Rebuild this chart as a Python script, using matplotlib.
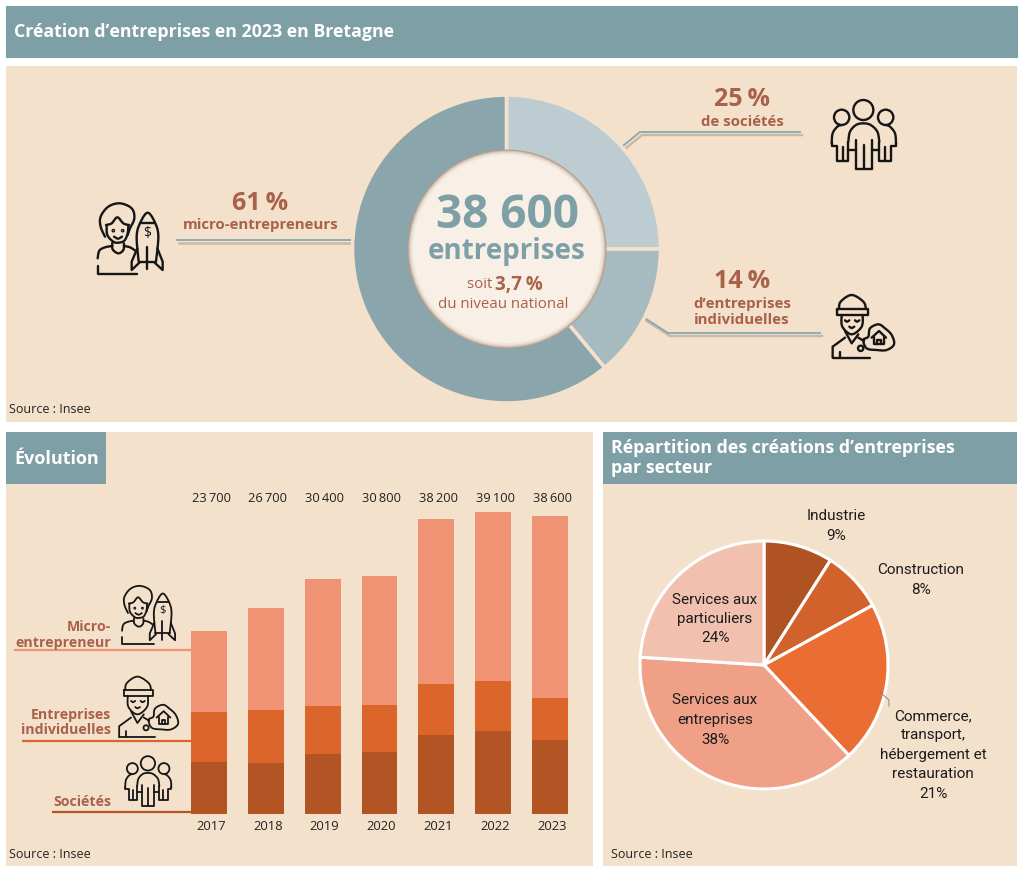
import numpy as np
import matplotlib as mpl
mpl.use('Agg')
import matplotlib.pyplot as plt
from matplotlib.patches import Rectangle, Circle
from matplotlib.transforms import ScaledTranslation

W, H = 1024, 874

donut_labels = ["de sociétés", "d’entreprises individuelles", "micro-entrepreneurs"]
donut_values = [25, 14, 61]
donut_colors = ["#BDCCD1", "#A5BBC0", "#8BA5AC"]

years = ["2017", "2018", "2019", "2020", "2021", "2022", "2023"]
societes = [6700, 6600, 7800, 8000, 10200, 10800, 9600]
individuelles = [6500, 6900, 6200, 6100, 6700, 6500, 5500]
micro = [10500, 13200, 16400, 16700, 21300, 21800, 23500]
totals = ["23 700", "26 700", "30 400", "30 800", "38 200", "39 100", "38 600"]

sectors = ["Industrie", "Construction", "Commerce", "Services aux entreprises", "Services aux particuliers"]
sector_values = [9, 8, 21, 38, 24]
sector_colors = ["#B05323", "#D2622B", "#EA6E34", "#F0A086", "#F2C0AF"]

TEAL = "#7E9FA5"
BEIGE = "#F3E1CB"
BROWN = "#A9614A"
C_SOC, C_EI, C_MICRO = "#B35424", "#DC652C", "#F09274"

plt.rcParams['font.family'] = ['Open Sans', 'DejaVu Sans']
fig = plt.figure(figsize=(W / 100, H / 100), dpi=100)


def px_axes(left, top, right, bottom, z):
    a = fig.add_axes([left / W, 1 - bottom / H, (right - left) / W, (bottom - top) / H], zorder=z)
    a.patch.set_alpha(0)
    return a


def full_axes(z):
    a = px_axes(0, 0, W, H, z)
    a.set_xlim(0, W)
    a.set_ylim(H, 0)
    a.axis("off")
    return a


bg = full_axes(0)
fg = full_axes(5)

for x0, y0, x1, y1, c in [(6, 6, 1018, 58, TEAL), (6, 66, 1017, 422, BEIGE), (6, 432, 593, 866, BEIGE),
                          (603, 432, 1017, 866, BEIGE), (6, 432, 106, 484, TEAL), (603, 432, 1017, 484, TEAL)]:
    bg.add_patch(Rectangle((x0, y0), x1 - x0, y1 - y0, fc=c, ec="none"))

# leader lines, shadow first
for xs, ys in [([177, 357], [240, 240]), ([618, 640, 800], [150, 132, 132]), ([640, 668, 820], [315, 333, 333])]:
    bg.plot(np.array(xs) + 2, np.array(ys) + 3, color="#C9BAA8", lw=1.8)
    bg.plot(xs, ys, color="#86A8B3", lw=1.3)

# donut
r = 154
cx, cy = 506.5, 249
ax = px_axes(cx - r, cy - r, cx + r, cy + r, 1)
ax.pie(donut_values, colors=donut_colors, startangle=90, counterclock=False, radius=1,
       wedgeprops=dict(width=0.5, edgecolor=BEIGE, linewidth=2.6))
ax.set_xlim(-1, 1)
ax.set_ylim(-1, 1)
for rad, col in [(99.5, "#B39C8C"), (98.5, "#C9B9AB"), (97.5, "#E0D4C8"), (96, "#F0E7DB"), (94, "#F8F0E6")]:
    fg.add_patch(Circle((cx + 0.5, cy), rad, fc=col, ec="none"))

# stacked bars
bx = px_axes(180.5, 490, 578.5, 814, 2)
x = np.arange(len(years))
bx.bar(x, societes, width=0.63, color=C_SOC)
bx.bar(x, individuelles, width=0.63, bottom=societes, color=C_EI)
bx.bar(x, micro, width=0.63, bottom=np.add(societes, individuelles), color=C_MICRO)
bx.set_xlim(-0.5, 6.5)
bx.set_ylim(0, 42000)
bx.set_xticks(x, years, fontsize=9.4, color="#222222")
bx.tick_params(axis="x", length=0, pad=4)
shift = ScaledTranslation(2 / 100, 0, fig.dpi_scale_trans)
for lab in bx.get_xticklabels():
    lab.set_transform(lab.get_transform() + shift)
bx.set_yticks([])
for s in bx.spines.values():
    s.set_visible(False)
for i, t in enumerate(totals):
    fg.text(211 + i * 56.9, 499, t.replace(" ", "\u2009"), ha="center", va="center", fontsize=9.3, color="#222222")

# sector pie
pr = 124
px, py = 764, 665
pa = px_axes(px - pr, py - pr, px + pr, py + pr, 2)
pa.pie(sector_values, colors=sector_colors, startangle=90, counterclock=False, radius=1,
       wedgeprops=dict(edgecolor="white", linewidth=2.2))
pa.set_xlim(-1, 1)
pa.set_ylim(-1, 1)
fg.plot([880, 889, 889], [692, 700, 706], color="#8A8078", lw=0.7)


def spline(pts, closed=False, n=12):
    # catmull-rom, only to keep the icons round
    p = np.array(pts, dtype=float)
    if closed:
        p = np.vstack([p[-1], p, p[0], p[1]])
    else:
        p = np.vstack([p[0], p, p[-1]])
    out = []
    for i in range(1, len(p) - 2):
        for t in np.linspace(0, 1, n, endpoint=False):
            out.append(0.5 * (2 * p[i] + (p[i + 1] - p[i - 1]) * t
                              + (2 * p[i - 1] - 5 * p[i] + 4 * p[i + 1] - p[i + 2]) * t ** 2
                              + (3 * p[i] - p[i - 1] - 3 * p[i + 1] + p[i + 2]) * t ** 3))
    out.append(p[-2])
    return np.array(out)


def draw(a, x0, y0, s, lw, curves=(), lines=(), circles=()):
    for pts, closed in curves:
        q = spline(pts, closed)
        a.plot(x0 + q[:, 0] * s, y0 + q[:, 1] * s, color="#161616", lw=lw, solid_capstyle="round")
    for pts in lines:
        q = np.array(pts, dtype=float)
        a.plot(x0 + q[:, 0] * s, y0 + q[:, 1] * s, color="#161616", lw=lw, solid_capstyle="round", solid_joinstyle="round")
    for cxx, cyy, rr in circles:
        a.add_patch(Circle((x0 + cxx * s, y0 + cyy * s), rr * s, fc="none", ec="#161616", lw=lw))


def icon_rocket(a, x0, y0, s, lw, fs):
    draw(a, x0, y0, s, lw, curves=[
        ([(75, 140), (62, 110), (62, 80), (85, 50), (120, 40), (155, 55), (163, 85), (150, 115), (143, 135)], False),
        ([(78, 105), (95, 100), (112, 82), (130, 100), (147, 105)], False),
        ([(80, 105), (82, 135), (100, 155), (115, 158), (133, 152), (143, 130), (145, 105)], False),
        ([(102, 140), (114, 146), (126, 140)], False),
        ([(97, 158), (98, 178), (115, 190), (130, 180), (132, 160)], False),
        ([(53, 205), (58, 182), (75, 172), (97, 168)], False),
        ([(132, 168), (150, 172), (166, 182)], False),
        ([(176, 215), (170, 140), (180, 100), (203, 68), (226, 100), (235, 140), (228, 215)], False),
    ], lines=[
        [(53, 228), (53, 252), (172, 252)], [(176, 215), (228, 215)], [(180, 100), (226, 100)],
        [(172, 175), (155, 215), (155, 240), (178, 218)], [(232, 175), (248, 215), (248, 240), (224, 218)],
        [(201, 170), (201, 238)],
    ], circles=[(100, 122, 2), (128, 122, 2)])
    a.text(x0 + 201 * s, y0 + 130 * s, "$", ha="center", va="center", fontsize=fs, color="#161616")


def icon_group(a, x0, y0, s, lw):
    draw(a, x0, y0, s, lw, curves=[
        ([(145, 155), (150, 125), (168, 105), (190, 100), (212, 105), (232, 125), (238, 155)], False),
        ([(95, 160), (98, 130), (112, 110), (125, 105)], False),
        ([(288, 160), (285, 130), (270, 110), (258, 105)], False),
    ], lines=[
        [(145, 155), (145, 180), (167, 180)], [(238, 155), (238, 180), (217, 180)],
        [(167, 150), (167, 238), (217, 238), (217, 150)], [(192, 165), (192, 238)],
        [(95, 160), (95, 168), (110, 168), (110, 212), (145, 212), (145, 180)], [(128, 170), (128, 212)],
        [(288, 160), (288, 168), (273, 168), (273, 212), (238, 212), (238, 180)], [(255, 170), (255, 212)],
    ], circles=[(190, 60, 30), (125, 82, 23), (257, 82, 23)])


def icon_worker(a, x0, y0, s, lw):
    draw(a, x0, y0, s, lw, curves=[
        ([(57, 72), (62, 50), (95, 30), (130, 50), (138, 72)], False),
        ([(65, 90), (67, 125), (95, 148), (125, 125), (128, 90)], False),
        ([(75, 106), (81, 110), (88, 106)], False),
        ([(105, 106), (111, 110), (118, 106)], False),
        ([(88, 125), (95, 129), (103, 125)], False),
        ([(130, 165), (145, 155), (150, 130), (175, 118), (195, 130), (215, 150), (222, 178), (200, 195), (170, 195), (140, 190)], True),
    ], lines=[
        [(52, 72), (145, 72), (145, 90), (52, 90), (52, 72)],
        [(75, 138), (95, 175), (115, 148)], [(38, 218), (38, 185), (75, 158)], [(115, 158), (132, 168)],
        [(38, 218), (150, 218)], [(60, 200), (60, 218)], [(155, 158), (177, 138), (198, 158)],
        [(162, 155), (162, 178), (192, 178), (192, 155)], [(172, 178), (172, 165), (182, 165), (182, 178)],
    ], circles=[(122, 190, 8)])


icon_rocket(bg, 80, 190, 1 / 3, 1.7, 10)
icon_group(bg, 800, 90, 1 / 3, 1.7)
icon_worker(bg, 820, 285, 1 / 3, 1.7)
icon_rocket(fg, 107.6, 575, 0.272, 1.3, 8)
icon_group(fg, 102.5, 749, 0.239, 1.3)
icon_worker(fg, 107, 667, 0.32, 1.3)

# bar chart legend rows
for xs, yy, c in [(14, 650, C_MICRO), (22, 741, C_EI), (52, 812, C_SOC)]:
    fg.plot([xs, 191], [yy, yy], color=c, lw=1.6, solid_capstyle="butt")


def txt(x0, y0, s, size, color=BROWN, weight="normal", ha="center", ls=1.1):
    fg.text(x0, y0, s, fontsize=size, color=color, fontweight=weight, ha=ha, va="center", linespacing=ls)


txt(14, 32, "Création d’entreprises en 2023 en Bretagne", 12.8, "white", "bold", "left")
txt(14, 459, "Évolution", 13, "white", "bold", "left")
txt(611, 458, "Répartition des créations d’entreprises\npar secteur", 12.8, "white", "bold", "left", 1.2)

txt(260, 204, "61\u2009%", 18, weight="bold")
txt(261, 225, "micro-entrepreneurs", 10.8, weight="bold")
txt(742, 100, "25\u2009%", 18, weight="bold")
txt(742, 122, "de sociétés", 10.8, weight="bold")
txt(742, 281, "14\u2009%", 18, weight="bold")
txt(742, 312, "d’entreprises\nindividuelles", 10.8, weight="bold")

txt(507, 215, "38 600", 33, TEAL, "bold")
txt(507, 252, "entreprises", 20, TEAL, "bold")
txt(496, 285, "soit ", 10.8, ha="right")
txt(495, 285, "3,7\u2009%", 13.5, weight="bold", ha="left")
txt(503.5, 304.5, "du niveau national", 10.8)

txt(111, 635, "Micro-\nentrepreneur", 10.2, weight="bold", ha="right")
txt(111, 722.5, "Entreprises\nindividuelles", 10.2, weight="bold", ha="right")
txt(111, 802, "Sociétés", 10.2, weight="bold", ha="right")

txt(9, 409.5, "Source : Insee", 9, "#222222", ha="left")
txt(9, 854.5, "Source : Insee", 9, "#222222", ha="left")
txt(611, 854.5, "Source : Insee", 9, "#222222", ha="left")

for x0, y0, s in [(836, 526, f"{sectors[0]}\n{sector_values[0]}%"),
                  (921, 580, f"{sectors[1]}\n{sector_values[1]}%"),
                  (933, 755, f"{sectors[2]},\ntransport,\nhébergement et\nrestauration\n{sector_values[2]}%"),
                  (715, 720, f"Services aux\nentreprises\n{sector_values[3]}%"),
                  (715, 619, f"Services aux\nparticuliers\n{sector_values[4]}%")]:
    fg.text(x0, y0, s, fontsize=11, color="#1C1C1C", family="Roboto", ha="center", va="center", linespacing=1.5)

fig.savefig("out.png", dpi=100, facecolor="white")
